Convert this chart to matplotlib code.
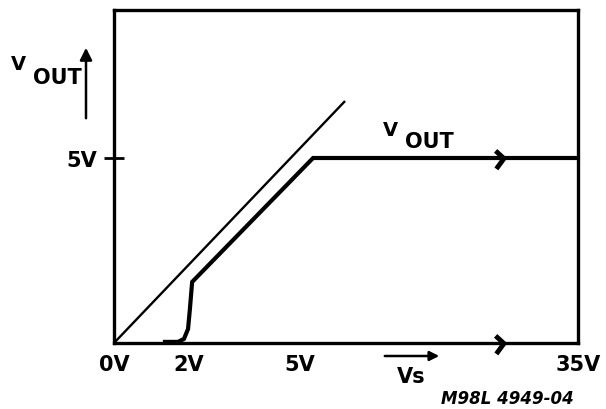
import numpy as np
import matplotlib.pyplot as plt
from matplotlib.path import Path
from matplotlib.patches import FancyArrowPatch

# ideal line (Vout = Vs) and real output curve, in volts on a broken x axis
ideal_x = [0.0, 6.21]
ideal_y = [0.0, 6.54]
vout_x = [1.37, 1.72, 1.88, 1.99, 2.04, 2.10, 5.35, 12.47]
vout_y = [0.03, 0.03, 0.11, 0.38, 0.92, 1.65, 5.0, 5.0]
xtick_pos = [0, 2, 5, 12.47]
xtick_lab = ['0V', '2V', '5V', '35V']
ytick_pos = [5]
ytick_lab = ['5V']
break_x = 10.38
break_y = [5.0, 0.0]

W, H = 606, 410
fig = plt.figure(figsize=(W / 100, H / 100), dpi=100)
ax = fig.add_axes([114 / W, 1 - 344 / H, (578 - 114) / W, (344 - 11) / H])

def px(x, y):
    return (x / W, 1 - y / H)

font = dict(family='DejaVu Sans', fontweight='bold', color='black')

ax.plot(ideal_x, ideal_y, color='black', lw=1.7, solid_capstyle='butt')
ax.plot(vout_x, vout_y, color='black', lw=3.0, solid_joinstyle='miter')

# break marks on the two horizontal lines
brk = Path([(-0.35, 0.55), (0.25, 0.0), (-0.3, -0.75)],
           [Path.MOVETO, Path.LINETO, Path.LINETO])
ax.plot([break_x] * len(break_y), break_y, ls='none', marker=brk,
        ms=15, mew=3.5, mec='black', mfc='none', clip_on=False)

ax.set_xlim(0, 12.47)
ax.set_ylim(0, 9.0)
for s in ax.spines.values():
    s.set_linewidth(2.4)

ax.set_xticks(xtick_pos, xtick_lab, **font, fontsize=15)
ax.set_xticks([5], minor=True)
ax.tick_params(axis='x', which='major', length=0, pad=8)
ax.tick_params(axis='x', which='minor', direction='in', length=6.5, width=2)
ax.set_yticks(ytick_pos, ytick_lab, **font, fontsize=15)
ax.tick_params(axis='y', direction='inout', length=14, width=2, pad=5)

# y axis label with arrow
fig.text(*px(18, 64), 'V', ha='center', va='center', fontsize=14, **font)
fig.text(*px(57, 78), 'OUT', ha='center', va='center', fontsize=15, **font)
fig.patches.append(FancyArrowPatch(
    px(86, 122), px(86, 46), transform=fig.transFigure, arrowstyle='-|>',
    mutation_scale=18, lw=1.8, color='black'))

# curve label
fig.text(*px(390, 130), 'V', ha='center', va='center', fontsize=14, **font)
fig.text(*px(429, 142), 'OUT', ha='center', va='center', fontsize=15, **font)

# x axis label with arrow
fig.patches.append(FancyArrowPatch(
    px(382, 357), px(442, 357), transform=fig.transFigure, arrowstyle='-|>',
    mutation_scale=14, lw=1.8, color='black'))
fig.text(*px(411, 377), 'Vs', ha='center', va='center', fontsize=15, **font)

fig.text(*px(507, 399), 'M98L 4949-04', ha='center', va='center',
         fontsize=12, family='DejaVu Sans', fontweight='bold',
         style='italic')

fig.savefig('out.png', dpi=100)
